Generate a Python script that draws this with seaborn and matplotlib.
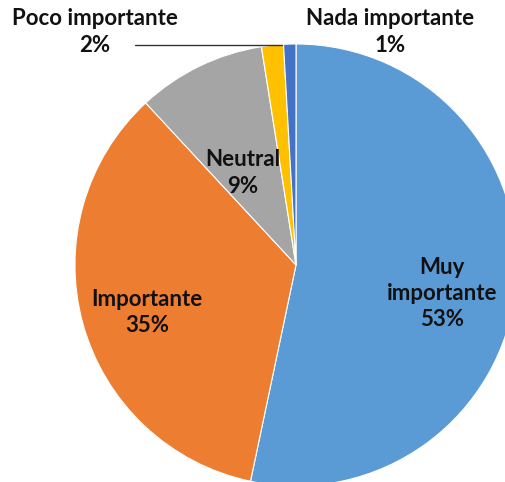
import matplotlib
matplotlib.use("Agg")
import matplotlib.pyplot as plt
import seaborn as sns

# data (shares in percent)
categories = ["Muy\nimportante", "Importante", "Neutral", "Poco importante", "Nada importante"]
values = [53.3, 34.8, 9.4, 1.6, 0.9]
colors = ["#5B9BD5", "#ED7D31", "#A5A5A5", "#FFC000", "#4472C4"]

sns.set_theme(style="white")
plt.rcParams["font.family"] = ["Lato", "DejaVu Sans"]

fig = plt.figure(figsize=(5.06, 4.82), dpi=100)
ax = fig.add_axes([0, 0, 1, 1])

ax.pie(values, colors=colors, startangle=90, counterclock=False, radius=1.0,
       wedgeprops=dict(edgecolor="white", linewidth=0.8))

# label positions (data coords, radius = 1)
label_pos = [(0.66, -0.13), (-0.674, -0.217), (-0.24, 0.416), (-0.909, 1.054), (0.425, 1.054)]
for cat, val, (x, y) in zip(categories, values, label_pos):
    ax.text(x, y, f"{cat}\n{val:.0f}%", ha="center", va="center", fontsize=16,
            fontweight="bold", color="#111111", linespacing=1.3)

# leader line for the small slice
ax.plot([-0.728, -0.063], [0.995, 0.995], color="#333333", linewidth=1.0)

ax.set_xlim(-1.339, 0.950)
ax.set_ylim(-0.982, 1.199)
ax.set_aspect("auto")
ax.axis("off")

fig.savefig("out.png", dpi=100, facecolor="white")
